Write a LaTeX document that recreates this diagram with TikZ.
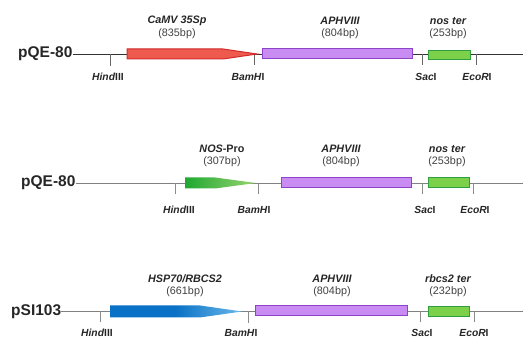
\documentclass[tikz,border=0pt]{standalone}
\usepackage{fontspec}
\setmainfont{Liberation Sans}
\definecolor{redfill}{HTML}{EE5A4E}
\definecolor{redline}{HTML}{D22A2A}
\definecolor{purfill}{HTML}{C88CF2}
\definecolor{purline}{HTML}{8E44C8}
\definecolor{grnfill}{HTML}{7DD04A}
\definecolor{grnline}{HTML}{2E9E3E}
\definecolor{grnA}{HTML}{1FA832}
\definecolor{grnB}{HTML}{9AD470}
\definecolor{bluA}{HTML}{0A72C6}
\definecolor{bluB}{HTML}{6AB8EA}
\definecolor{txt}{HTML}{262626}
\definecolor{bptxt}{HTML}{404040}
\begin{document}
\begin{tikzpicture}[x=1pt,y=-1pt,
  plasmid/.style={font=\fontsize{15.5}{16}\selectfont\bfseries, text=txt, inner sep=0pt, anchor=west},
  genename/.style={font=\fontsize{10.8}{12}\selectfont\bfseries\itshape, text=txt, inner sep=0pt},
  bpsize/.style={font=\fontsize{10.8}{12}\selectfont, text=bptxt, inner sep=0pt},
  site/.style={font=\fontsize{10.3}{12}\selectfont\bfseries, text=txt, inner sep=0pt},
  backA/.style={draw=black!80, line width=0.8pt},
  backB/.style={draw=black!50, line width=0.7pt},
  tickA/.style={draw=black!60, line width=0.8pt},
  tickB/.style={draw=black!45, line width=0.7pt},
  purbox/.style={draw=purline, fill=purfill, line width=1pt},
  grnbox/.style={draw=grnline, fill=grnfill, line width=1pt},
]
\useasboundingbox (0,0) rectangle (523,339);

% ---------------- Row 1 ----------------
\node[plasmid] (p1) at (18,54) {pQE-80};
\coordinate (e1) at (523,54);
\draw[backA] (p1.east) -- (e1);
\draw[tickA] (110,54) coordinate (h1) -- (110,66) coordinate (h1b);
\draw[tickA] (254,54) coordinate (b1) -- (254,65) coordinate (b1b);
\draw[tickA] (422,54) coordinate (s1) -- (422,65) coordinate (s1b);
\draw[tickA] (476,54) coordinate (r1) -- (476,65) coordinate (r1b);
\draw[draw=redline, fill=redfill, line width=1pt, line join=miter]
  (127,49) -- (223,49) -- (257,54) -- (223,59) -- (127,59) -- cycle;
\node[purbox, minimum width=150pt, minimum height=10pt, inner sep=0pt] (a1) at (337,54) {};
\node[grnbox, minimum width=42pt, minimum height=9pt, inner sep=0pt] (t1) at (449,55) {};
\node[genename] (g1) at (177,21) {CaMV 35Sp};
\node[bpsize] (n1) at (177,34) {(835bp)};
\node[genename] (g2) at (340,21) {APHVIII};
\node[bpsize] (n2) at (340,34) {(804bp)};
\node[genename] (g3) at (448,21) {nos ter};
\node[bpsize] (n3) at (448,34) {(253bp)};
\node[site] (sh1) at (108,77) {\textit{Hind}III};
\node[site] (sb1) at (248,77) {\textit{BamH}I};
\node[site] (ss1) at (426,77) {\textit{Sac}I};
\node[site] (se1) at (477,77) {\textit{EcoR}I};

% ---------------- Row 2 ----------------
\node[plasmid] (p2) at (21,183) {pQE-80};
\coordinate (e2) at (523,183);
\draw[backB] (p2.east) -- (e2);
\draw[tickB] (175,183) coordinate (h2) -- (175,194) coordinate (h2b);
\draw[tickB] (258,183) coordinate (b2) -- (258,194) coordinate (b2b);
\draw[tickB] (422,183) coordinate (s2) -- (422,194) coordinate (s2b);
\draw[tickB] (473,183) coordinate (r2) -- (473,194) coordinate (r2b);
\shade[left color=grnA, right color=grnB]
  (185,177.5) -- (215,177.5) -- (256,183) -- (215,188.5) -- (185,188.5) -- cycle;
\node[purbox, minimum width=130pt, minimum height=10pt, inner sep=0pt] (a2) at (346,183) {};
\node[grnbox, minimum width=41pt, minimum height=10pt, inner sep=0pt] (t2) at (448.5,183) {};
\node[genename] (g4) at (222,149) {NOS\textup{-Pro}};
\node[bpsize] (n4) at (222,162) {(307bp)};
\node[genename] (g5) at (341,149) {APHVIII};
\node[bpsize] (n5) at (341,162) {(804bp)};
\node[genename] (g6) at (447,149) {nos ter};
\node[bpsize] (n6) at (447,162) {(253bp)};
\node[site] (sh2) at (179,210) {\textit{Hind}III};
\node[site] (sb2) at (254,210) {\textit{BamH}I};
\node[site] (ss2) at (425,210) {\textit{Sac}I};
\node[site] (se2) at (475,210) {\textit{EcoR}I};

% ---------------- Row 3 ----------------
\node[plasmid] (p3) at (11,311.5) {pSI103};
\coordinate (e3) at (523,311.5);
\draw[backB] (p3.east) -- (e3);
\draw[tickB] (100,311.5) coordinate (h3) -- (100,322) coordinate (h3b);
\draw[tickB] (248,311.5) coordinate (b3) -- (248,323) coordinate (b3b);
\draw[tickB] (420,311.5) coordinate (s3) -- (420,322) coordinate (s3b);
\draw[tickB] (474,311.5) coordinate (r3) -- (474,322) coordinate (r3b);
\shade[left color=bluA, right color=bluB, middle color=bluA]
  (110,305.5) -- (200,305.5) -- (242,311.5) -- (200,317.5) -- (110,317.5) -- cycle;
\node[purbox, minimum width=152pt, minimum height=10pt, inner sep=0pt] (a3) at (331.5,311) {};
\node[grnbox, minimum width=41pt, minimum height=10pt, inner sep=0pt] (t3) at (448.5,312) {};
\node[genename] (g7) at (185,279) {HSP70/RBCS2};
\node[bpsize] (n7) at (185,292) {(661bp)};
\node[genename] (g8) at (332,279) {APHVIII};
\node[bpsize] (n8) at (332,292) {(804bp)};
\node[genename] (g9) at (448,279) {rbcs2 ter};
\node[bpsize] (n9) at (448,292) {(232bp)};
\node[site] (sh3) at (97,333) {\textit{Hind}III};
\node[site] (sb3) at (241,333) {\textit{BamH}I};
\node[site] (ss3) at (422,333) {\textit{Sac}I};
\node[site] (se3) at (474,333) {\textit{EcoR}I};
\end{tikzpicture}
\end{document}
